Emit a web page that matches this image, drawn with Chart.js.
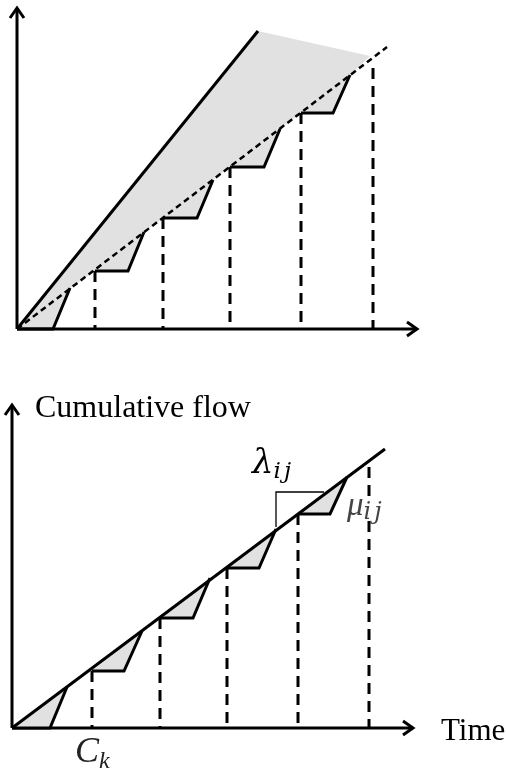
<!DOCTYPE html>
<html>
<head>
<meta charset="utf-8">
<script src="https://cdn.jsdelivr.net/npm/chart.js@4/dist/chart.umd.min.js"></script>
<style>
  body { margin: 0; background: #fff; }
  canvas { position: absolute; left: 0; }
  #topChart { top: 0; }
  #bottomChart { top: 380px; }
</style>
</head>
<body>
<canvas id="topChart" width="506" height="350"></canvas>
<canvas id="bottomChart" width="506" height="391"></canvas>
<script>
// ---- top panel data (time / cumulative flow, arbitrary units) ----
const topFastX = [0, 24.1];
const topFastY = [0, 29.8];
const topRateX = [0, 37.0];
const topRateY = [0, 28.2];
const topShadeCorner = [35.3, 27.3];
const topStepStart = [0, 7.8, 14.6, 21.3, 28.4];
const topStepLevel = [0, 5.8, 11.1, 16.2, 21.6];
const topStepEnd = [3.6, 11.1, 18.0, 24.7, 31.6];
const topRiseX = [5.3, 12.7, 19.6, 26.3, 33.3];
const topRiseY = [4.1, 9.7, 14.9, 20.0, 25.4];
const topCycleTimes = [7.8, 14.6, 21.3, 28.4, 35.6];
const topCycleTops = [5.8, 11.1, 16.2, 21.6, 26.1];
const topAxisEnd = [40.0, 32.1];

// ---- bottom panel data ----
const botLineX = [0, 37.3];
const botLineY = [0, 27.9];
const botStepStart = [0, 8.0, 14.8, 21.5, 28.6];
const botStepLevel = [0, 5.7, 11.0, 16.0, 21.4];
const botStepEnd = [3.8, 11.2, 18.1, 24.7, 31.8];
const botRiseX = [5.5, 13.0, 19.8, 26.4, 33.5];
const botRiseY = [4.1, 9.7, 15.0, 19.9, 25.1];
const botCycleTimes = [8.0, 14.8, 21.5, 28.6, 35.7];
const botCycleTops = [5.7, 11.0, 16.0, 21.4, 26.1];
const botSlopeX = [26.4, 26.4, 31.2];
const botSlopeY = [20.1, 23.6, 23.6];
const botAxisEnd = [40.1, 32.3];

const SHADE = '#e1e1e1';
const INK = '#000';

function pts(xs, ys) {
    return xs.map((x, i) => ({ x: x, y: ys[i] }));
}

function lineSet(points, extra) {
    return Object.assign({
        data: points,
        showLine: true,
        pointRadius: 0,
        borderColor: INK,
        borderWidth: 3,
        fill: false,
        clip: false,
        tension: 0,
        borderCapStyle: 'butt',
        borderJoinStyle: 'miter',
        order: 1
    }, extra || {});
}

function stepPoints(start, level, end, rx, ry, k) {
    return [
        { x: start[k], y: level[k] },
        { x: end[k], y: level[k] },
        { x: rx[k], y: ry[k] }
    ];
}

function axisSets(end) {
    return [
        lineSet(pts([0, end[0]], [0, 0])),
        lineSet(pts([0, 0], [0, end[1]]))
    ];
}

function cycleSets(times, tops) {
    return times.map((t, i) => lineSet(pts([t, t], [tops[i], 0]), { borderDash: [11, 7] }));
}

// chevron arrowheads at the ends of both axes
function makeArrows(end) {
    return {
        id: 'arrows',
        afterDatasetsDraw(chart) {
            const { ctx, scales: { x, y } } = chart;
            const x0 = x.getPixelForValue(0), y0 = y.getPixelForValue(0);
            const xt = x.getPixelForValue(end[0]), yt = y.getPixelForValue(end[1]);
            ctx.save();
            ctx.strokeStyle = INK;
            ctx.lineWidth = 3;
            ctx.lineJoin = 'miter';
            ctx.beginPath();
            ctx.moveTo(xt - 10, y0 - 7);
            ctx.lineTo(xt, y0);
            ctx.lineTo(xt - 10, y0 + 7);
            ctx.moveTo(x0 - 7, yt + 10);
            ctx.lineTo(x0, yt);
            ctx.lineTo(x0 + 7, yt + 10);
            ctx.stroke();
            ctx.restore();
        }
    };
}

function makeLabels(items) {
    return {
        id: 'labels',
        afterDatasetsDraw(chart) {
            const { ctx, scales: { x, y } } = chart;
            items.forEach(item => {
                const px = x.getPixelForValue(item.x), py = y.getPixelForValue(item.y);
                ctx.save();
                ctx.textBaseline = 'alphabetic';
                ctx.font = item.font;
                const w = ctx.measureText(item.text).width;
                if (item.mask) {
                    // label sits on a white patch that hides the dashed line behind it
                    ctx.fillStyle = '#fff';
                    ctx.fillRect(px + w + 2, py - 16, 26, 22);
                }
                ctx.fillStyle = item.color || INK;
                ctx.fillText(item.text, px, py);
                if (item.sub) {
                    ctx.font = item.subFont;
                    ctx.letterSpacing = item.subSpacing || '0px';
                    ctx.fillText(item.sub, px + w + (item.subDx || 0), py + item.subDy);
                }
                ctx.restore();
            });
        }
    };
}

function baseOptions(padding) {
    return {
        responsive: false,
        animation: false,
        events: [],
        layout: { padding: padding },
        plugins: { legend: { display: false }, tooltip: { enabled: false } },
        scales: {
            x: { type: 'linear', min: 0, max: 40, display: false },
            y: { type: 'linear', min: 0, max: 32, display: false }
        }
    };
}

// ---- top chart ----
const topShade = [{ x: 0, y: 0 }, { x: topFastX[1], y: topFastY[1] },
    { x: topShadeCorner[0], y: topShadeCorner[1] }];
for (let k = topStepStart.length - 1; k >= 0; k--) {
    topShade.push({ x: topRiseX[k], y: topRiseY[k] });
    topShade.push({ x: topStepEnd[k], y: topStepLevel[k] });
    topShade.push({ x: topStepStart[k], y: topStepLevel[k] });
}

const topDatasets = [
    lineSet(topShade, { borderWidth: 0, borderColor: 'rgba(0,0,0,0)', backgroundColor: SHADE, fill: 'shape', order: 5 }),
    lineSet(pts(topFastX, topFastY)),
    lineSet(pts(topRateX, topRateY), { borderWidth: 2.5, borderDash: [6, 4] })
].concat(
    topStepStart.map((s, k) => lineSet(stepPoints(topStepStart, topStepLevel, topStepEnd, topRiseX, topRiseY, k))),
    cycleSets(topCycleTimes, topCycleTops),
    axisSets(topAxisEnd)
);

new Chart(document.getElementById('topChart'), {
    type: 'scatter',
    data: { datasets: topDatasets },
    options: baseOptions({ left: 17, right: 89, top: 9, bottom: 21 }),
    plugins: [makeArrows(topAxisEnd)]
});

// ---- bottom chart ----
const botDatasets = [
    lineSet(pts(botLineX, botLineY), { order: 0 }),
    lineSet(pts(botSlopeX, botSlopeY), { borderWidth: 1.3 })
].concat(
    botStepStart.map((s, k) => lineSet(stepPoints(botStepStart, botStepLevel, botStepEnd, botRiseX, botRiseY, k),
        { fill: 'shape', backgroundColor: SHADE })),
    cycleSets(botCycleTimes, botCycleTops),
    axisSets(botAxisEnd)
);

const botLabels = [
    { text: 'Cumulative flow', x: 2.3, y: 31.1, font: '32px "Liberation Serif"' },
    { text: 'Time', x: 42.9, y: -1.2, font: '31px "Liberation Serif"' },
    { text: 'λ', x: 24.0, y: 25.5, font: 'italic 34px "DejaVu Serif"', sub: 'ij',
      subFont: 'italic 23px "DejaVu Serif"', subDx: 0, subDy: 5, subSpacing: '3px' },
    { text: 'μ', x: 33.5, y: 21.3, color: '#444', font: 'italic 33px "Liberation Serif"', sub: 'ij',
      subFont: 'italic 24px "DejaVu Serif"', subDx: 0, subDy: 4, subSpacing: '3px', mask: true },
    { text: 'C', x: 6.3, y: -3.4, color: '#222', font: 'italic 36px "Liberation Serif"', sub: 'k',
      subFont: 'italic 24px "Liberation Serif"', subDx: 0, subDy: 6 }
];

new Chart(document.getElementById('bottomChart'), {
    type: 'scatter',
    data: { datasets: botDatasets },
    options: baseOptions({ left: 12, right: 94, top: 28, bottom: 43 }),
    plugins: [makeArrows(botAxisEnd), makeLabels(botLabels)]
});
</script>
</body>
</html>
